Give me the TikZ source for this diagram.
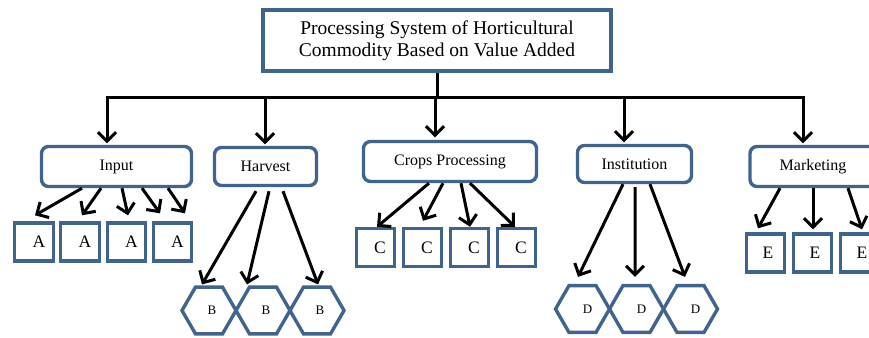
\documentclass[tikz,border=0pt]{standalone}
\usepackage{fontspec}
\setmainfont{Liberation Serif}
\usetikzlibrary{arrows.meta,shapes.geometric}
\definecolor{bord}{HTML}{41648F}
\begin{document}
\begin{tikzpicture}[x=1pt,y=-1pt,
  titlebox/.style={draw=bord,line width=3.5pt,minimum width=348pt,minimum height=61pt,align=center,inner sep=0pt,font=\fontsize{19.5}{22.5}\selectfont},
  catbox/.style={draw=bord,line width=3.4pt,rounded corners=7pt,inner sep=0pt,font=\fontsize{16}{19}\selectfont},
  leafbox/.style={draw=bord,line width=3.4pt,inner sep=0pt,minimum width=38.5pt,minimum height=38pt,font=\fontsize{17.5}{20}\selectfont},
  hexbox/.style={draw=bord,line width=3.4pt,inner sep=0pt,shape=regular polygon,regular polygon sides=6,minimum size=54pt,font=\fontsize{13}{15}\selectfont},
  ln/.style={draw=black,line width=3pt},
  arr/.style={draw=black,line width=3pt,-{Straight Barb[length=9pt,width=18pt]}}]
\fill[white] (0,0) rectangle (869,337);
\useasboundingbox (0,0) rectangle (869,337);
\clip (0,0) rectangle (869,337);

% title
\node[titlebox] (tt) at (437,40.5) {Processing System of Horticultural\\Commodity Based on Value Added};

% categories
\node[catbox,minimum width=150pt,minimum height=40pt] (in) at (116.5,166.5) {Input};
\node[catbox,minimum width=102pt,minimum height=38pt] (hv) at (265.5,166.5) {Harvest};
\node[catbox,minimum width=173pt,minimum height=40pt] (cp) at (450,161.5) {Crops Processing};
\node[catbox,minimum width=114pt,minimum height=37pt] (it) at (634.5,164) {Institution};
\node[catbox,minimum width=126pt,minimum height=40pt] (mk) at (813,166.5) {Marketing};

% leaves A
\node[leafbox] (a1) at (34,242) {\hspace*{10pt}A};
\node[leafbox] (a2) at (80,242) {\hspace*{10pt}A};
\node[leafbox] (a3) at (126.5,242) {\hspace*{10pt}A};
\node[leafbox] (a4) at (172.5,242) {\hspace*{10pt}A};
% leaves B
\node[hexbox] (b1) at (209,310.5) {\hspace*{6pt}B};
\node[hexbox] (b2) at (263,310.5) {\hspace*{6pt}B};
\node[hexbox] (b3) at (317,310.5) {\hspace*{6pt}B};
% leaves C
\node[leafbox] (c1) at (375.5,247.5) {\hspace*{9pt}C};
\node[leafbox] (c2) at (422.5,247.5) {\hspace*{9pt}C};
\node[leafbox] (c3) at (469.5,247.5) {\hspace*{9pt}C};
\node[leafbox] (c4) at (516.5,247.5) {\hspace*{9pt}C};
% leaves D
\node[hexbox] (d1) at (582.5,309) {\hspace*{10pt}D};
\node[hexbox] (d2) at (636.5,309) {\hspace*{10pt}D};
\node[hexbox] (d3) at (690.5,309) {\hspace*{10pt}D};
% leaves E
\node[leafbox] (e1) at (765.5,253) {\hspace*{5pt}E};
\node[leafbox] (e2) at (812.5,253) {\hspace*{5pt}E};
\node[leafbox] (e3) at (859.5,253) {\hspace*{5pt}E};

% bus
\coordinate (j1) at (107,97);
\coordinate (j2) at (265,97);
\coordinate (j3) at (435,97);
\coordinate (j4) at (624,97);
\coordinate (j5) at (803,97);
\draw[ln] (tt.south) -- (tt.south |- j3);
\draw[ln,line cap=rect] (j1) -- (j5);
\draw[arr,shorten >=1.5pt] (j1) -- (j1 |- in.north);
\draw[arr,shorten >=1.5pt] (j2) -- (j2 |- hv.north);
\draw[arr,shorten >=2.5pt] (j3) -- (j3 |- cp.north);
\draw[arr,shorten >=1.5pt] (j4) -- (j4 |- it.north);
\draw[arr,shorten >=1.5pt] (j5) -- (j5 |- mk.north);

% Input arrows
\draw[arr] ([xshift=-34.5pt]in.south) -- ([xshift=1pt,yshift=6pt]a1.north);
\draw[arr] ([xshift=-15.5pt]in.south) -- ([xshift=2pt,yshift=6pt]a2.north);
\draw[arr] ([xshift=5.5pt]in.south) -- ([xshift=1.5pt,yshift=6pt]a3.north);
\draw[arr] ([xshift=25.5pt]in.south) -- ([xshift=-12.5pt,yshift=8pt]a4.north);
\draw[arr] ([xshift=51.5pt]in.south) -- ([xshift=12.5pt,yshift=8pt]a4.north);

% Harvest arrows
\draw[arr] ([xshift=-9.5pt,yshift=-4pt]hv.south) -- ([xshift=-7pt,yshift=1pt]b1.north);
\draw[arr] ([xshift=3.5pt,yshift=-4pt]hv.south) -- ([xshift=-16pt,yshift=1pt]b2.north);
\draw[arr] ([xshift=17.5pt,yshift=-4pt]hv.south) -- ([xshift=1pt,yshift=1pt]b3.north);

% Crops arrows
\draw[arr] ([xshift=-21pt]cp.south) -- ([xshift=1.5pt,yshift=0pt]c1.north);
\draw[arr] ([xshift=-7pt]cp.south) -- ([xshift=0.5pt,yshift=6pt]c2.north);
\draw[arr] ([xshift=11pt]cp.south) -- ([xshift=0.5pt,yshift=0pt]c3.north);
\draw[arr] ([xshift=20pt]cp.south) -- ([xshift=-1.5pt,yshift=0pt]c4.north);

% Institution arrows
\draw[arr] ([xshift=-11.5pt]it.south) -- ([xshift=-4.5pt,yshift=7pt]d1.north);
\draw[arr] ([xshift=0.5pt,yshift=-3pt]it.south) -- ([xshift=-1.5pt,yshift=7pt]d2.north);
\draw[arr] ([xshift=15.5pt]it.south) -- ([xshift=-5.5pt,yshift=7pt]d3.north);

% Marketing arrows
\draw[arr] ([xshift=-33pt]mk.south) -- ([xshift=-7.5pt,yshift=4pt]e1.north);
\draw[arr] ([xshift=0pt]mk.south) -- ([xshift=0.5pt,yshift=3pt]e2.north);
\draw[arr] ([xshift=35pt]mk.south) -- ([xshift=2.5pt,yshift=3pt]e3.north);
\end{tikzpicture}
\end{document}
